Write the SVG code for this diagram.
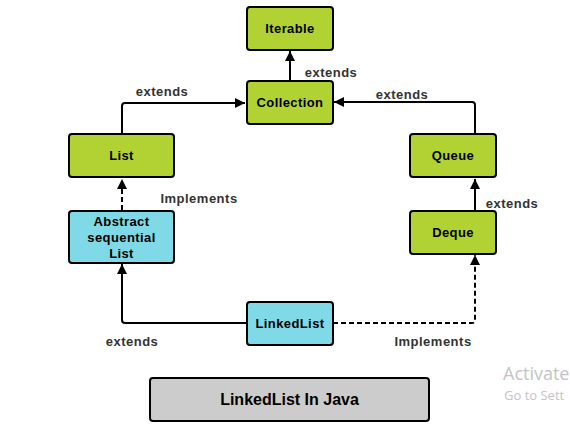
<svg xmlns="http://www.w3.org/2000/svg" width="570" height="426" viewBox="0 0 570 426">
<style>
.node{stroke:#000;stroke-width:2}
.g{fill:#b2d234}
.b{fill:#80d9e6}
.t{font-family:"Liberation Sans",Arial,sans-serif;font-weight:bold;font-size:13px;letter-spacing:0.4px;fill:#000;text-anchor:middle;dominant-baseline:central}
.lbl{font-family:"Liberation Sans",Arial,sans-serif;font-weight:bold;font-size:13px;letter-spacing:0.5px;fill:#333;text-anchor:middle;dominant-baseline:central}
.c{fill:none;stroke:#000;stroke-width:2}
.d{stroke-dasharray:5,3}
.wm{font-family:"Open Sans","Noto Sans",sans-serif;fill:#c4c4c4}
</style>
<defs>
<marker id="ah" viewBox="0 0 10 10" refX="10" refY="5" markerWidth="5" markerHeight="5" markerUnits="strokeWidth" orient="auto">
<path d="M0,0 L10,5 L0,10 z" fill="#000"/>
</marker>
</defs>
<rect width="570" height="426" fill="#fff"/>
<g id="connectors">
<path class="c" d="M290,80 V51" marker-end="url(#ah)"/>
<path class="c" d="M122,133 V106 Q122,103 125,103 H245" marker-end="url(#ah)"/>
<path class="c" d="M475,133 V105 Q475,102 472,102 H334" marker-end="url(#ah)"/>
<path class="c" d="M475,210 V179" marker-end="url(#ah)"/>
<path class="c d" d="M122,210 V179" marker-end="url(#ah)"/>
<path class="c" d="M246,323 H125 Q122,323 122,320 V264" marker-end="url(#ah)"/>
<path class="c d" d="M333,323 H472 Q475,323 475,320 V255" marker-end="url(#ah)"/>
</g>
<g id="labels">
<text class="lbl" x="162" y="91">extends</text>
<text class="lbl" x="331" y="72">extends</text>
<text class="lbl" x="402" y="94">extends</text>
<text class="lbl" x="512" y="203">extends</text>
<text class="lbl" x="199" y="198">Implements</text>
<text class="lbl" x="132" y="341">extends</text>
<text class="lbl" x="433" y="341">Implements</text>
</g>
<g id="iterable"><rect class="node g" x="247" y="7" width="86" height="43" rx="3"/><text class="t" x="290" y="28.5">Iterable</text></g>
<g id="collection"><rect class="node g" x="247" y="81" width="86" height="43" rx="3"/><text class="t" x="290" y="102.5">Collection</text></g>
<g id="list"><rect class="node g" x="69" y="134" width="105" height="43" rx="3"/><text class="t" x="121.5" y="155.5">List</text></g>
<g id="abstract"><rect class="node b" x="69" y="211" width="105" height="52" rx="3"/><text class="t" x="121.5" y="221">Abstract</text><text class="t" x="121.5" y="237">sequential</text><text class="t" x="121.5" y="253">List</text></g>
<g id="queue"><rect class="node g" x="410" y="134" width="86" height="43" rx="3"/><text class="t" x="453" y="155.5">Queue</text></g>
<g id="deque"><rect class="node g" x="410" y="211" width="86" height="43" rx="3"/><text class="t" x="453" y="232.5">Deque</text></g>
<g id="linkedlist"><rect class="node b" x="247" y="302" width="86" height="43" rx="3"/><text class="t" x="290" y="323.5">LinkedList</text></g>
<g id="title"><rect class="node" fill="#cccccc" x="150" y="378" width="279" height="43" rx="3"/><text x="289.5" y="399.5" font-family="Liberation Sans,Arial,sans-serif" font-weight="bold" font-size="16" text-anchor="middle" dominant-baseline="central" fill="#000">LinkedList In Java</text></g>
<g id="watermark"><text class="wm" x="503" y="380" font-size="18">Activate</text><text class="wm" x="504" y="400" font-size="13">Go to Sett</text></g>
</svg>
